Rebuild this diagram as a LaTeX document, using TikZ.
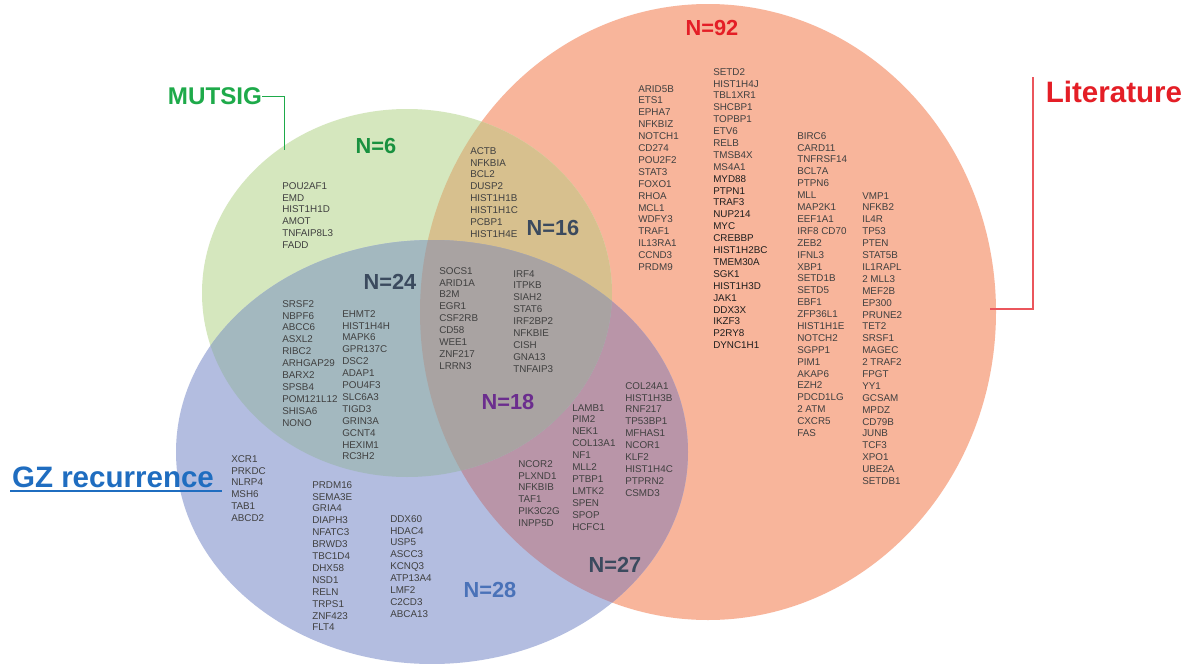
\documentclass[tikz,border=0pt]{standalone}
\usepackage{fontspec}
\setmainfont{Liberation Sans}
\usepackage{tikz}
\definecolor{litfill}{HTML}{F8B59B}
\definecolor{mutfill}{HTML}{D5E7BE}
\definecolor{gzfill}{HTML}{B3BDE0}
\definecolor{mutlitfill}{HTML}{D7C08E}
\definecolor{mutgzfill}{HTML}{A3B8BF}
\definecolor{gzlitfill}{HTML}{B995A8}
\definecolor{allfill}{HTML}{A9A3A2}
\definecolor{genegray}{HTML}{404040}
\definecolor{geneblack}{HTML}{1E1E1E}
\definecolor{litred}{HTML}{E41E26}
\definecolor{mutgreen}{HTML}{1EAA4A}
\definecolor{gzblue}{HTML}{1F6DC0}
\definecolor{slate}{HTML}{3B4A5E}
\definecolor{violet}{HTML}{6B2D8E}
\definecolor{midblue}{HTML}{4A72B8}
\tikzstyle{genes} = [anchor=north west, inner sep=0pt, align=left, text=genegray, font=\fontsize{7}{8.46}\selectfont]
\tikzstyle{darkgenes} = [genes, text=geneblack]
\tikzstyle{count} = [inner sep=0pt, font=\fontsize{15.5}{18}\selectfont\bfseries]
\tikzstyle{setlabel} = [inner sep=0pt, font=\fontsize{19}{22}\selectfont\bfseries]
\tikzstyle{leader} = [line width=0.9pt]
\def\litset{(708,312) ellipse [x radius=288, y radius=308]}
\def\mutset{(407,293) ellipse [x radius=205, y radius=184]}
\def\gzset{(432,452) ellipse [x radius=256, y radius=212]}

\begin{document}
\begin{tikzpicture}[x=0.025cm, y=-0.025cm]

% canvas, one pixel of the figure per unit
\fill[white] (0,0) rectangle (1192,664);
\useasboundingbox (0,0) rectangle (1192,664);
% SETS
\fill[litfill] \litset;
\fill[mutfill] \mutset;
\fill[gzfill] \gzset;
% pairwise overlaps
\begin{scope}
\clip \mutset;
\fill[mutlitfill] \litset;
\end{scope}
\begin{scope}
\clip \gzset;
\fill[gzlitfill] \litset;
\end{scope}
\begin{scope}
\clip \mutset;
\fill[mutgzfill] \gzset;
\end{scope}
% all three
\begin{scope}
\clip \mutset;
\clip \gzset;
\fill[allfill] \litset;
\end{scope}
% Set names and leaders
\node[setlabel, text=mutgreen, font=\fontsize{17.2}{20}\selectfont\bfseries] (mutsig) at (215, 96) {MUTSIG};
\node[setlabel, text=litred, font=\fontsize{21}{24}\selectfont\bfseries] (literature) at (1114, 92) {Literature};
\node[setlabel, text=gzblue, font=\fontsize{21}{24}\selectfont\bfseries] (gzrec) at (113, 477) {GZ recurrence};
\coordinate (mutend) at (284, 150);
\coordinate (littop) at (1033, 77);
\coordinate (litend) at (990, 309);
\coordinate (gzstart) at (10, 491);
\coordinate (gzend) at (222, 491);
\draw[leader, mutgreen, line width=0.6pt] (mutsig.east) -| (mutend);
\draw[leader, litred!75] (litend) -| (littop);
\draw[leader, gzblue] (gzstart) -- (gzend);
% Counts
\node[count, text=litred] (n92) at (712, 28) {N=92};
\node[count, text=mutgreen!85!black] (n6) at (376, 146) {N=6};
\node[count, text=slate] (n16) at (553, 228) {N=16};
\node[count, text=slate] (n24) at (390, 282) {N=24};
\node[count, text=violet] (n18) at (508, 402) {N=18};
\node[count, text=slate] (n27) at (615, 565) {N=27};
\node[count, text=midblue] (n28) at (490, 590) {N=28};
% MUTSIG only
\node[genes] (mut1) at (282, 182) {POU2AF1\\EMD\\HIST1H1D\\AMOT\\TNFAIP8L3\\FADD};
% MUTSIG and Literature
\node[genes] (mutlit1) at (470, 147) {ACTB\\NFKBIA\\BCL2\\DUSP2\\HIST1H1B\\HIST1H1C\\PCBP1\\HIST1H4E};
% Literature only
\node[genes] (lit1) at (638, 85) {ARID5B\\ETS1\\EPHA7\\NFKBIZ\\NOTCH1\\CD274\\POU2F2\\STAT3\\FOXO1\\RHOA\\MCL1\\WDFY3\\TRAF1\\IL13RA1\\CCND3\\PRDM9};
\node[genes] (lit2) at (713, 68) {SETD2\\HIST1H4J\\TBL1XR1\\SHCBP1\\TOPBP1\\ETV6\\RELB\\TMSB4X\\MS4A1};
\node[darkgenes] (lit3) at (713, 175) {MYD88\\PTPN1\\TRAF3\\NUP214\\MYC\\CREBBP\\HIST1H2BC\\TMEM30A\\SGK1\\HIST1H3D\\JAK1\\DDX3X\\IKZF3\\P2RY8\\DYNC1H1};
\node[genes] (lit4) at (797, 132) {BIRC6\\CARD11\\TNFRSF14\\BCL7A\\PTPN6\\MLL\\MAP2K1\\EEF1A1\\IRF8 CD70\\ZEB2\\IFNL3\\XBP1\\SETD1B\\SETD5\\EBF1\\ZFP36L1\\HIST1H1E\\NOTCH2\\SGPP1\\PIM1\\AKAP6\\EZH2\\PDCD1LG\\2 ATM\\CXCR5\\FAS};
\node[genes] (lit5) at (862, 192) {VMP1\\NFKB2\\IL4R\\TP53\\PTEN\\STAT5B\\IL1RAPL\\2 MLL3\\MEF2B\\EP300\\PRUNE2\\TET2\\SRSF1\\MAGEC\\2 TRAF2\\FPGT\\YY1\\GCSAM\\MPDZ\\CD79B\\JUNB\\TCF3\\XPO1\\UBE2A\\SETDB1};
% all three sets
\node[genes] (all1) at (439, 267) {SOCS1\\ARID1A\\B2M\\EGR1\\CSF2RB\\CD58\\WEE1\\ZNF217\\LRRN3};
\node[genes] (all2) at (513, 270) {IRF4\\ITPKB\\SIAH2\\STAT6\\IRF2BP2\\NFKBIE\\CISH\\GNA13\\TNFAIP3};
% MUTSIG and GZ recurrence
\node[genes] (mutgz1) at (282, 300) {SRSF2\\NBPF6\\ABCC6\\ASXL2\\RIBC2\\ARHGAP29\\BARX2\\SPSB4\\POM121L12\\SHISA6\\NONO};
\node[genes] (mutgz2) at (342, 310) {EHMT2\\HIST1H4H\\MAPK6\\GPR137C\\DSC2\\ADAP1\\POU4F3\\SLC6A3\\TIGD3\\GRIN3A\\GCNT4\\HEXIM1\\RC3H2};
% GZ recurrence only
\node[genes] (gz1) at (231, 455) {XCR1\\PRKDC\\NLRP4\\MSH6\\TAB1\\ABCD2};
\node[genes] (gz2) at (312, 481) {PRDM16\\SEMA3E\\GRIA4\\DIAPH3\\NFATC3\\BRWD3\\TBC1D4\\DHX58\\NSD1\\RELN\\TRPS1\\ZNF423\\FLT4};
\node[genes] (gz3) at (390, 515) {DDX60\\HDAC4\\USP5\\ASCC3\\KCNQ3\\ATP13A4\\LMF2\\C2CD3\\ABCA13};
% GZ recurrence and Literature
\node[genes] (gzlit1) at (518, 460) {NCOR2\\PLXND1\\NFKBIB\\TAF1\\PIK3C2G\\INPP5D};
\node[genes] (gzlit2) at (572, 404) {LAMB1\\PIM2\\NEK1\\COL13A1\\NF1\\MLL2\\PTBP1\\LMTK2\\SPEN\\SPOP\\HCFC1};
\node[genes] (gzlit3) at (625, 382) {COL24A1\\HIST1H3B\\RNF217\\TP53BP1\\MFHAS1\\NCOR1\\KLF2\\HIST1H4C\\PTPRN2\\CSMD3};
\end{tikzpicture}
\end{document}
